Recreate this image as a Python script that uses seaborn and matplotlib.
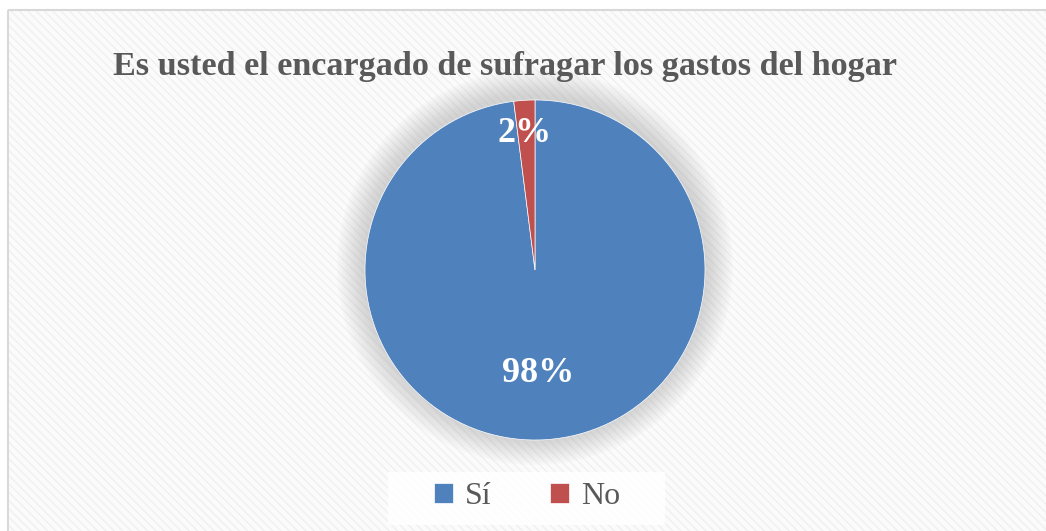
import matplotlib.pyplot as plt
import matplotlib.patches as mpatches
import seaborn as sns

title = 'Es usted el encargado de sufragar los gastos del hogar'
categories = ['Sí', 'No']
values = [98, 2]
colors = ['#4f81bd', '#c0504d']

sns.set_theme(style='white')
plt.rcParams['font.family'] = ['Liberation Serif', 'DejaVu Serif']

W, H = 1046, 531
fig = plt.figure(figsize=(W / 100, H / 100), dpi=100)
fig.patch.set_facecolor('white')

# background: hatched chart area with a light border
bg = fig.add_axes([0, 0, 1, 1])
bg.set_xlim(0, W)
bg.set_ylim(H, 0)
bg.axis('off')
bg.add_patch(mpatches.Rectangle((8, 10), W, H, facecolor='#fbfbfb',
                                edgecolor='#f0f0f0', hatch='\\\\\\\\', lw=0))
bg.add_patch(mpatches.Rectangle((8, 10), W, H, facecolor='none',
                                edgecolor='#d9d9d9', lw=1.5))

# soft shadow behind pie
cx, cy, r = 535, 270, 170
for i in range(14):
    bg.add_patch(mpatches.Circle((cx, cy - 3), r + 28 - i * 2, facecolor='#9a9a9a',
                                 alpha=0.03, lw=0))

# legend box
bg.add_patch(mpatches.Rectangle((388, 472), 277, 53, facecolor='white',
                                edgecolor='none', alpha=0.85))

fig.text(0.483, 1 - 66 / H, title, ha='center', va='center', fontsize=24.6,
         fontweight='bold', color='#595959')

size = 2 * r * 1.25
ax = fig.add_axes([(cx - size / 2) / W, (H - cy - size / 2) / H, size / W, size / H])
wedges, texts, autotexts = ax.pie(values, colors=colors, startangle=90,
                                  counterclock=False, autopct='%1.0f%%',
                                  pctdistance=0.6,
                                  wedgeprops=dict(edgecolor='white', linewidth=0.5),
                                  textprops=dict(color='white', fontsize=26,
                                                 fontweight='bold'))
autotexts[1].set_position((-0.06, 0.8))
autotexts[0].set_position((0.02, -0.61))
ax.set_aspect('equal')

fig.legend(wedges, categories, loc='center', bbox_to_anchor=(527 / W, 1 - 497 / H),
           ncol=2, frameon=False, fontsize=23, handlelength=0.6, handleheight=0.6,
           handletextpad=0.35, columnspacing=1.85, labelcolor='#595959')

fig.savefig('out.png', dpi=100)
